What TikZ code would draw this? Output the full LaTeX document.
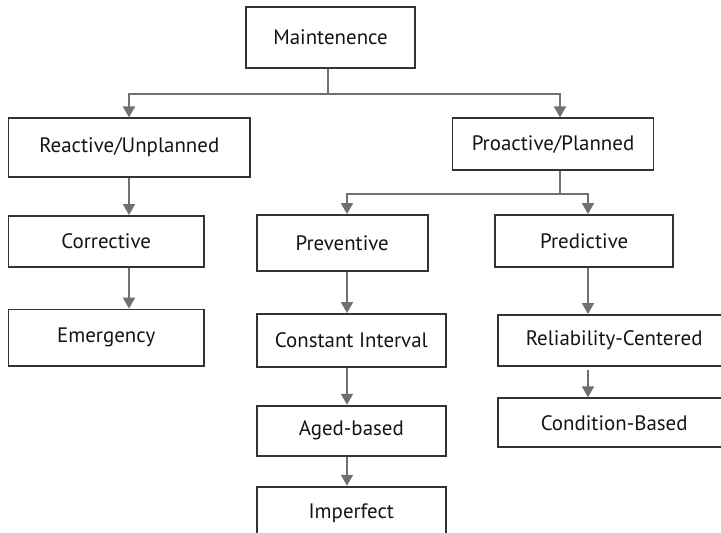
\documentclass[tikz,border=0pt]{standalone}
\usepackage{fontspec}
\setmainfont{PT Sans}
\usetikzlibrary{arrows.meta}
\definecolor{boxline}{HTML}{333333}
\definecolor{linkgray}{HTML}{707070}
\definecolor{txt}{HTML}{141414}
\begin{document}
\begin{tikzpicture}[x=1pt,y=-1pt,
  box/.style={draw=boxline, line width=1.8pt, rectangle, inner sep=0pt,
    text=txt, font=\fontsize{20.9}{25}\selectfont, anchor=center},
  link/.style={draw=linkgray, line width=1.8pt},
  arr/.style={link, -{Triangle[width=12pt,length=11pt]}, color=linkgray}]
\useasboundingbox (0,0) rectangle (721,533);
\clip (0,0) rectangle (721,533);

% boxes
\node[box, minimum width=169pt, minimum height=61pt] (maint) at (330.5,37.5) {Maintenence};
\node[box, minimum width=241.5pt, minimum height=58.4pt] (reactive) at (129.25,147.5) {Reactive/Unplanned};
\node[box, minimum width=201pt, minimum height=51.7pt] (proactive) at (553,144.2) {Proactive/Planned};
\node[box, minimum width=195.5pt, minimum height=50.7pt] (corrective) at (106.25,241.3) {Corrective};
\node[box, minimum width=195.5pt, minimum height=56.5pt] (emergency) at (106.25,337.75) {Emergency};
\node[box, minimum width=171pt, minimum height=55.7pt] (preventive) at (342.2,242.85) {Preventive};
\node[box, minimum width=178.3pt, minimum height=52.3pt] (predictive) at (584.15,241.15) {Predictive};
\node[box, minimum width=189.3pt, minimum height=52.7pt] (constant) at (351.35,340.35) {Constant Interval};
\node[box, minimum width=189.3pt, minimum height=50pt] (aged) at (351.35,430.7) {Aged-based};
\node[box, minimum width=189.3pt, minimum height=53pt] (imperfect) at (351.35,513.2) {Imperfect};
\node[box, minimum width=231.7pt, minimum height=51pt] (reliability) at (614.15,340.5) {Reliability-Centered};
\node[box, minimum width=231.7pt, minimum height=49pt] (condition) at (614.15,422.8) {Condition-Based};

% column and bus positions
\coordinate (colA) at (129,0);
\coordinate (colB) at (347,0);
\coordinate (colC) at (588,0);
\coordinate (colP) at (560,0);
\coordinate (stemM) at (328,0);
\coordinate (bus1) at (328,94.3);
\coordinate (bus2) at (560,194.3);

% top level split
\draw[link] (maint.south -| stemM) -- (bus1);
\draw[arr] (bus1) -| (reactive.north -| colA);
\draw[arr] (bus1) -| (proactive.north -| colP);

% proactive split
\draw[link] (proactive.south -| colP) -- (bus2);
\draw[arr] (bus2) -| (preventive.north -| colB);
\draw[arr] (bus2) -| (predictive.north -| colC);

% reactive chain
\draw[arr] (reactive.south -| colA) -- (corrective.north -| colA);
\draw[arr] (corrective.south -| colA) -- (emergency.north -| colA);

% preventive chain
\draw[arr] (preventive.south -| colB) -- (constant.north -| colB);
\draw[arr] (constant.south -| colB) -- (aged.north -| colB);
\draw[arr] (aged.south -| colB) -- (imperfect.north -| colB);

% predictive chain
\draw[arr] (predictive.south -| colC) -- (reliability.north -| colC);
\draw[arr, shorten <=3pt] (reliability.south -| colC) -- (condition.north -| colC);
\end{tikzpicture}
\end{document}
